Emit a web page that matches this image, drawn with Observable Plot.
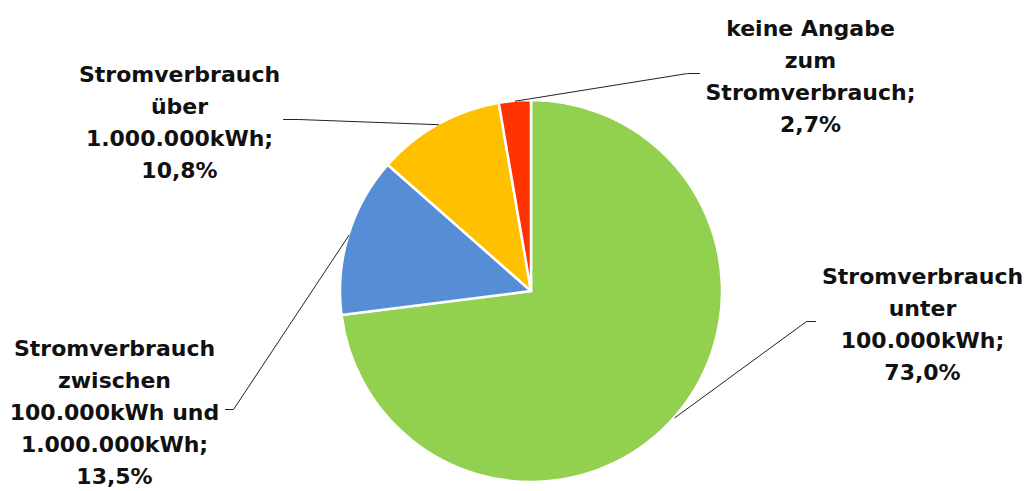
<!DOCTYPE html>
<html><head><meta charset="utf-8">
<script src="https://cdn.jsdelivr.net/npm/d3@7"></script>
<script src="https://cdn.jsdelivr.net/npm/@observablehq/plot@0.6"></script>
<style>body{margin:0;background:#fff;overflow:hidden}</style>
</head><body><div id="chart"></div>
<script>
// ---- data ----
const categories = ["unter", "zwischen", "über", "keine Angabe"];
const shares = [73.0, 13.5, 10.8, 2.7];
const labelTexts = [
  "Stromverbrauch\nunter\n100.000kWh;\n73,0%",
  "Stromverbrauch\nzwischen\n100.000kWh und\n1.000.000kWh;\n13,5%",
  "Stromverbrauch\nüber\n1.000.000kWh;\n10,8%",
  "keine Angabe\nzum\nStromverbrauch;\n2,7%"
];
const colors = ["#92D050", "#558ED5", "#FFC000", "#FF3300"];

// ---- layout (pixels) ----
const W = 1029, H = 491;
const CX = 531, CY = 291, R = 191;
const labelX = [922, 114, 179, 810];
const labelY = [321, 409, 119, 73];
const elbowX = [[806, 815], [233, 225], [298, 283], [687, 699]];
const FONT = "DejaVu Sans";

const data = categories.map((c, i) => ({category: c, share: shares[i]}));
const pieArcs = d3.pie().sort(null).value(d => d.share)(data);

const leaders = [];
pieArcs.forEach((a, i) => {
  const mid = (a.startAngle + a.endAngle) / 2;
  const cat = categories[i];
  leaders.push({category: cat, x: CX + R * Math.sin(mid), y: CY - R * Math.cos(mid)});
  leaders.push({category: cat, x: elbowX[i][0], y: labelY[i]});
  leaders.push({category: cat, x: elbowX[i][1], y: labelY[i]});
});
const labels = categories.map((c, i) => ({category: c, text: labelTexts[i], x: labelX[i], y: labelY[i]}));

function pieMark(index, scales, values, dimensions, context) {
  const sx = scales.x, sy = scales.y;
  const cx = sx(CX), cy = sy(CY), r = sx(CX + R) - sx(CX);
  const col = scales.color || d3.scaleOrdinal(categories, colors);
  const g = d3.create("svg:g").attr("transform", `translate(${cx},${cy})`);
  const arc = d3.arc().innerRadius(0).outerRadius(r);
  g.selectAll("path").data(pieArcs).join("path")
    .attr("d", arc)
    .attr("fill", d => col(d.data.category))
    .attr("stroke", "white")
    .attr("stroke-width", 2.5)
    .attr("stroke-linejoin", "round");
  return g.node();
}

const chart = Plot.plot({
  width: W, height: H,
  margin: 0,
  style: {background: "white", fontFamily: FONT},
  x: {domain: [0, W], range: [0, W], axis: null},
  y: {domain: [0, H], range: [0, H], axis: null},
  color: {domain: categories, range: colors},
  marks: [
    pieMark,
    Plot.line(leaders, {x: "x", y: "y", z: "category", stroke: "#222", strokeWidth: 1}),
    Plot.text(labels, {x: "x", y: "y", text: "text", fontSize: 22, fontWeight: "bold",
      lineHeight: 1.46, lineAnchor: "middle", fill: "#111", fontFamily: FONT})
  ]
});
document.getElementById("chart").appendChild(chart);
</script>
</body></html>
